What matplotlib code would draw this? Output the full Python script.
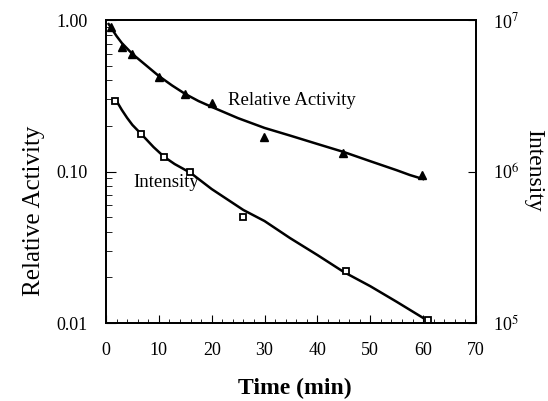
import numpy as np
import matplotlib
matplotlib.use("Agg")
import matplotlib.pyplot as plt
from matplotlib.ticker import FixedLocator, NullFormatter, MultipleLocator

plt.rcParams["font.family"] = ["Liberation Serif", "DejaVu Serif"]
plt.rcParams["mathtext.fontset"] = "stix"

# relative activity (triangles)
act_t = [0.9, 3.1, 4.9, 10.0, 14.9, 20.0, 29.9, 44.9, 59.7]
act_val = [0.90, 0.667, 0.60, 0.42, 0.325, 0.283, 0.168, 0.133, 0.095]

# fitted activity curve
act_fit_t = [0.5, 2, 3, 5, 7.5, 10, 12.5, 15, 17.5, 20, 25, 30, 35, 40, 45, 50, 55, 57.5, 60]
act_fit_val = [0.941, 0.784, 0.705, 0.597, 0.505, 0.427, 0.370, 0.325, 0.292, 0.267,
               0.225, 0.194, 0.172, 0.152, 0.1345, 0.117, 0.102, 0.0948, 0.0892]

# intensity (squares)
int_t = [1.7, 6.6, 10.9, 15.9, 25.9, 45.5, 60.9]
int_val = [2.93e6, 1.77e6, 1.25e6, 1.0e6, 5.0e5, 2.2e5, 1.05e5]

# fitted intensity curve
int_fit_t = [2, 3, 4, 5, 7, 9, 11, 13, 16, 20, 26, 30, 34.8, 40, 45, 50, 55, 60]
int_fit_val = [2.92e6, 2.55e6, 2.26e6, 2.03e6, 1.72e6, 1.45e6, 1.25e6, 1.12e6, 9.8e5,
               7.66e5, 5.57e5, 4.71e5, 3.64e5, 2.81e5, 2.17e5, 1.75e5, 1.38e5, 1.08e5]

fig = plt.figure(figsize=(5.48, 4.01), dpi=100)
ax = fig.add_axes([0.1934, 0.1945, 0.6752, 0.7555])
ax2 = ax.twinx()

ax.plot(act_fit_t, act_fit_val, color="black", lw=1.8)
ax.plot(act_t, act_val, "^", color="black", ms=6)
ax2.plot(int_fit_t, int_fit_val, color="black", lw=1.8)
ax2.plot(int_t, int_val, "s", mfc="white", mec="black", mew=1.3, ms=4.5)

ax.set_xlim(0, 70)
ax.set_yscale("log")
ax.set_ylim(0.01, 1.0)
ax2.set_yscale("log")
ax2.set_ylim(1e5, 1e7)

ax.xaxis.set_major_locator(MultipleLocator(10))
ax.xaxis.set_minor_locator(MultipleLocator(2))
ax.yaxis.set_major_locator(FixedLocator([0.01, 0.1, 1.0]))
ax.set_yticklabels(["0.01", "0.10", "1.00"])
ax.tick_params(axis="both", which="both", direction="in", top=False, right=False,
               labelsize=13)
ax.tick_params(axis="y", which="major", length=7, pad=13)
ax.tick_params(axis="y", which="minor", length=4)
ax.tick_params(axis="x", which="major", length=6, pad=14)
ax.tick_params(axis="x", which="minor", length=3)

ax2.yaxis.set_major_locator(FixedLocator([1e5, 1e6, 1e7]))
ax2.set_yticklabels([r"10$^5$", r"10$^6$", r"10$^7$"])
ax2.yaxis.set_minor_formatter(NullFormatter())
ax2.tick_params(axis="y", which="major", direction="in", length=6, labelsize=13, pad=12)
ax2.tick_params(axis="y", which="minor", length=0)

for a in (ax, ax2):
    for s in a.spines.values():
        s.set_linewidth(1.3)

fig.text(0.538, 0.032, "Time (min)", fontsize=17, fontweight="bold",
         ha="center", va="center")
fig.text(0.062, 0.474, "Relative Activity", fontsize=18, rotation=90,
         ha="center", va="center")
fig.text(0.974, 0.576, "Intensity", fontsize=17, rotation=-90,
         ha="center", va="center")

ax.text(23.1, 0.296, "Relative Activity", fontsize=13.5, va="center", ha="left")
ax.text(5.1, 0.085, "Intensity", fontsize=13.5, va="center", ha="left")

fig.savefig("out.png", dpi=100)
